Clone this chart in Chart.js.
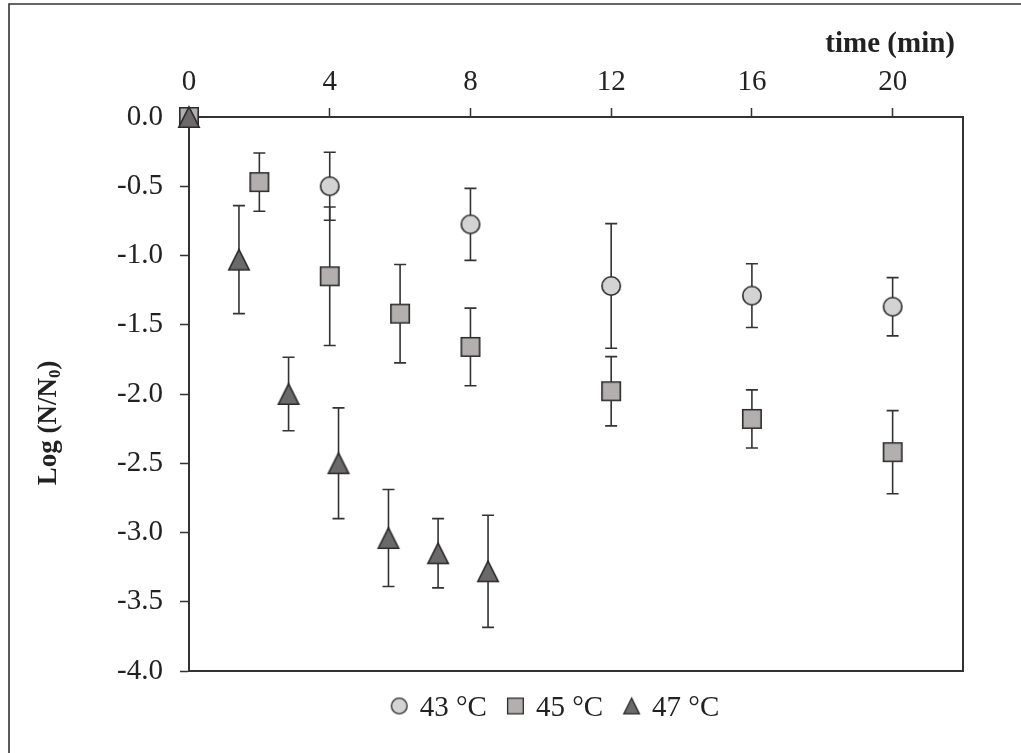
<!DOCTYPE html>
<html>
<head>
<meta charset="utf-8">
<script src="https://cdn.jsdelivr.net/npm/chart.js@4.4.1/dist/chart.umd.min.js"></script>
<style>
  html, body { margin: 0; padding: 0; background: #ffffff; }
  #wrap { width: 1021px; height: 753px; position: relative; }
</style>
</head>
<body>
<div id="wrap"><canvas id="chart" width="1021" height="753"></canvas></div>
<script>
// Survival curves: Log (N/N0) versus heating time, mean ± SD
const xTicks = [0, 4, 8, 12, 16, 20];

const times43 = [0, 4, 8, 12, 16, 20];
const log43   = [0, -0.50, -0.775, -1.22, -1.29, -1.37];
const sd43    = [0, 0.245, 0.26, 0.45, 0.23, 0.21];

const times45 = [0, 2, 4, 6, 8, 12, 16, 20];
const log45   = [0, -0.47, -1.15, -1.42, -1.66, -1.98, -2.18, -2.42];
const sd45    = [0, 0.21, 0.50, 0.355, 0.28, 0.25, 0.21, 0.30];

const times47 = [0, 1.42, 2.83, 4.25, 5.67, 7.08, 8.5];
const log47   = [0, -1.03, -2.00, -2.50, -3.04, -3.15, -3.28];
const sd47    = [0, 0.39, 0.265, 0.40, 0.35, 0.25, 0.405];

const seriesNames = ['43 °C', '45 °C', '47 °C'];

const FONT = '"Liberation Serif", "Times New Roman", serif';
const INK = '#2b2b2b';

// Marker bitmaps so each symbol is centred on its value
function makeMarker(shape, size, fill, lw) {
  const pad = 2;
  const c = document.createElement('canvas');
  c.width = size + pad * 2;
  c.height = size + pad * 2;
  const g = c.getContext('2d');
  g.fillStyle = fill;
  g.strokeStyle = INK;
  g.lineWidth = lw;
  g.lineJoin = 'miter';
  const h = lw / 2;
  g.beginPath();
  if (shape === 'circle') {
    g.arc(pad + size / 2, pad + size / 2, size / 2 - h, 0, Math.PI * 2);
  } else if (shape === 'square') {
    g.rect(pad + h, pad + h, size - lw, size - lw);
  } else {
    g.moveTo(pad + size / 2, pad + h);
    g.lineTo(pad + size - h, pad + size - h);
    g.lineTo(pad + h, pad + size - h);
    g.closePath();
  }
  g.fill();
  g.stroke();
  return c;
}

const fills = ['#d3d3d3', '#b2afae', '#6c696a'];
const shapes = ['circle', 'square', 'triangle'];
const plotMarkers = [
  makeMarker('circle', 20, fills[0], 1.6),
  makeMarker('square', 20, fills[1], 1.6),
  makeMarker('triangle', 22, fills[2], 1.6)
];
const legendMarkers = shapes.map((s, i) => makeMarker(s, 17, fills[i], 1.3));

const toPoints = (xs, ys) => xs.map((v, i) => ({ x: v, y: ys[i] }));
const errSets = [sd43, sd45, sd47];

const errorBars = {
  id: 'errorBars',
  beforeDatasetsDraw(chart) {
    const { ctx, scales: { x, y } } = chart;
    ctx.save();
    ctx.strokeStyle = '#333333';
    ctx.lineWidth = 1.6;
    chart.data.datasets.forEach((ds, di) => {
      const sd = errSets[di];
      ds.data.forEach((p, i) => {
        if (!sd[i]) return;
        const px = x.getPixelForValue(p.x);
        const top = y.getPixelForValue(p.y + sd[i]);
        const bot = y.getPixelForValue(p.y - sd[i]);
        ctx.beginPath();
        ctx.moveTo(px, top); ctx.lineTo(px, bot);
        ctx.moveTo(px - 6, top); ctx.lineTo(px + 6, top);
        ctx.moveTo(px - 6, bot); ctx.lineTo(px + 6, bot);
        ctx.stroke();
      });
    });
    ctx.restore();
  }
};

const decorations = {
  id: 'decorations',
  beforeDatasetsDraw(chart) {
    const { ctx, chartArea: a } = chart;
    ctx.save();
    // right and bottom edges of the plot frame
    ctx.strokeStyle = '#333333';
    ctx.lineWidth = 2;
    ctx.beginPath();
    ctx.moveTo(a.right, a.top - 1);
    ctx.lineTo(a.right, a.bottom);
    ctx.lineTo(a.left - 1, a.bottom);
    ctx.stroke();
    ctx.restore();
  },
  afterDraw(chart) {
    const { ctx, chartArea: a } = chart;
    ctx.save();
    // figure border
    ctx.strokeStyle = '#333333';
    ctx.lineWidth = 1.6;
    ctx.beginPath();
    ctx.moveTo(9, chart.height + 2);
    ctx.lineTo(9, 4);
    ctx.lineTo(chart.width + 2, 4);
    ctx.stroke();

    ctx.fillStyle = '#222222';
    // x axis title
    ctx.font = 'bold 29px ' + FONT;
    ctx.textAlign = 'right';
    ctx.textBaseline = 'alphabetic';
    ctx.fillText('time (min)', a.right - 8, 52);

    // y axis title with subscript
    ctx.save();
    ctx.translate(56, (a.top + a.bottom) / 2 + 29);
    ctx.rotate(-Math.PI / 2);
    const mainFont = 'bold 27px ' + FONT;
    const subFont = 'bold 17px ' + FONT;
    ctx.font = mainFont;
    const w1 = ctx.measureText('Log (N/N').width;
    const w3 = ctx.measureText(')').width;
    ctx.font = subFont;
    const w2 = ctx.measureText('0').width;
    let tx = -(w1 + w2 + w3) / 2;
    ctx.textAlign = 'left';
    ctx.font = mainFont;
    ctx.fillText('Log (N/N', tx, 0);
    tx += w1;
    ctx.font = subFont;
    ctx.fillText('0', tx, 4);
    tx += w2;
    ctx.font = mainFont;
    ctx.fillText(')', tx, 0);
    ctx.restore();

    // legend
    ctx.font = '29px ' + FONT;
    ctx.textAlign = 'left';
    const mk = 17, gapIn = 12, gapOut = 20;
    const widths = seriesNames.map(t => ctx.measureText(t).width);
    const total = widths.reduce((s, w) => s + mk + gapIn + w, 0) + gapOut * (seriesNames.length - 1);
    let lx = 555 - total / 2;
    const ly = 706;
    seriesNames.forEach((t, i) => {
      const m = legendMarkers[i];
      ctx.drawImage(m, lx + mk / 2 - m.width / 2, ly - m.height / 2);
      ctx.fillText(t, lx + mk + gapIn, ly + 10);
      lx += mk + gapIn + widths[i] + gapOut;
    });
    ctx.restore();
  }
};

const datasets = [
  { label: seriesNames[0], data: toPoints(times43, log43), pointStyle: plotMarkers[0], order: 3 },
  { label: seriesNames[1], data: toPoints(times45, log45), pointStyle: plotMarkers[1], order: 2 },
  { label: seriesNames[2], data: toPoints(times47, log47), pointStyle: plotMarkers[2], order: 1 }
].map(d => Object.assign(d, { showLine: false, clip: false, pointRadius: 10, pointHoverRadius: 10 }));

new Chart(document.getElementById('chart'), {
  type: 'scatter',
  data: { datasets },
  options: {
    responsive: false,
    animation: false,
    events: [],
    layout: { padding: { left: 0, top: 0, right: 58, bottom: 82 } },
    plugins: { legend: { display: false }, tooltip: { enabled: false } },
    scales: {
      x: {
        type: 'linear',
        position: 'top',
        min: 0,
        max: 22,
        afterBuildTicks: s => { s.ticks = xTicks.map(v => ({ value: v })); },
        afterFit: s => { s.height = 117; },
        ticks: { font: { family: FONT, size: 29 }, color: '#222222', padding: 8, maxRotation: 0, autoSkip: false },
        grid: { display: true, drawOnChartArea: false, drawTicks: true, tickLength: 9, tickColor: '#333333', tickWidth: 1.5 },
        border: { display: true, color: '#333333', width: 2 }
      },
      y: {
        type: 'linear',
        min: -4,
        max: 0,
        afterFit: s => { s.width = 189; },
        ticks: { stepSize: 0.5, font: { family: FONT, size: 29 }, color: '#222222', padding: 17,
                 callback: v => v.toFixed(1) },
        grid: { display: true, drawOnChartArea: false, drawTicks: true, tickLength: 9, tickColor: '#333333', tickWidth: 1.5 },
        border: { display: true, color: '#333333', width: 2 }
      }
    }
  },
  plugins: [errorBars, decorations]
});
</script>
</body>
</html>
